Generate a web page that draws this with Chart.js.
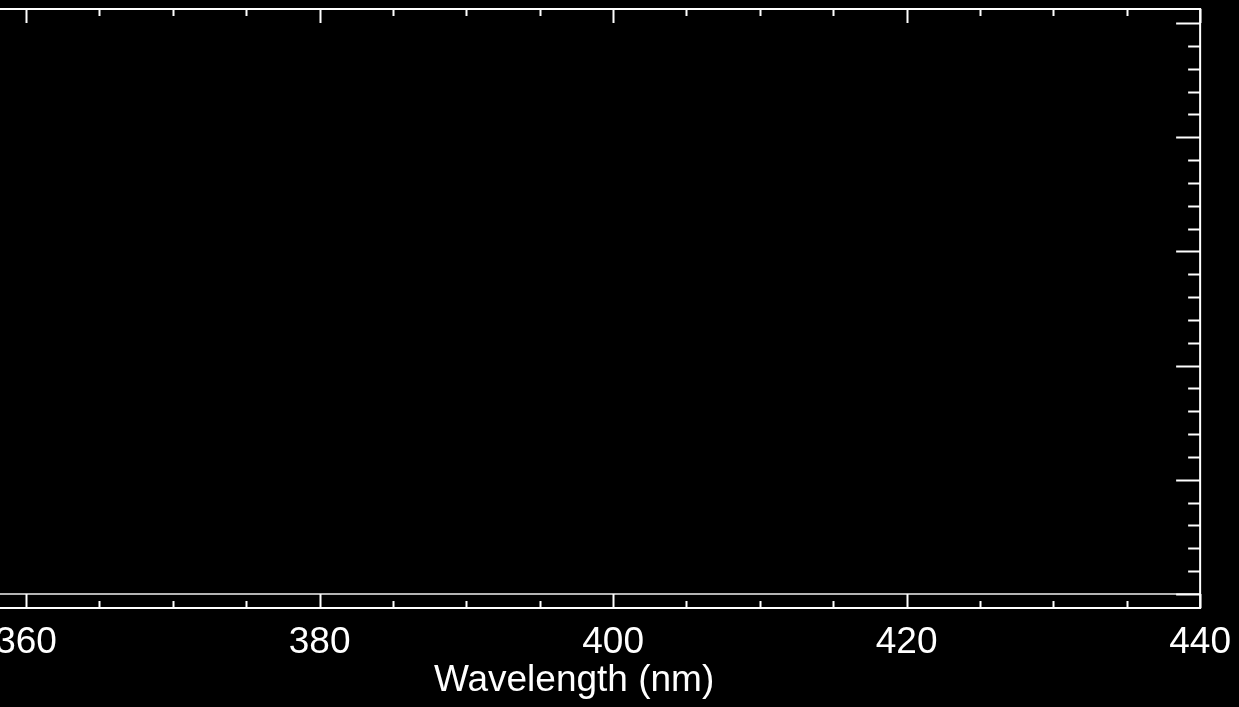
<!DOCTYPE html>
<html>
<head>
<meta charset="utf-8">
<script src="https://cdn.jsdelivr.net/npm/chart.js@4"></script>
<style>
  html, body { margin: 0; padding: 0; background: #000; overflow: hidden; }
  #wrap { position: absolute; left: -152px; top: 0; }
</style>
</head>
<body>
<div id="wrap"><canvas id="spec" width="1399" height="707"></canvas></div>
<script>
// wavelength range (nm) and tick setup
var xRange = [354.68, 440];
var xMajorTicks = [360, 380, 400, 420, 440];
var xMinorStep = 5;
// y axis: only ticks on the right edge are visible, labels are off the picture
var yRange = [-0.123, 5.123];
var yMajorStep = 1;
var yMinorStep = 0.2;
// the single flat trace sitting at zero
var waveNm = [350, 440];
var signal = [0, 0];

// IDL-style frame: inward ticks on bottom, top and right
var framePlugin = {
    id: 'idlFrame',
    afterDraw: function (chart) {
        var ctx = chart.ctx;
        var a = chart.chartArea;
        var xs = chart.scales.x;
        var ys = chart.scales.y;
        ctx.save();
        ctx.strokeStyle = '#ffffff';
        ctx.lineWidth = 2;
        ctx.beginPath();
        ctx.moveTo(a.left, a.top);
        ctx.lineTo(a.right, a.top);
        ctx.lineTo(a.right, a.bottom);
        ctx.lineTo(a.left, a.bottom);
        ctx.stroke();

        ctx.beginPath();
        xs.ticks.forEach(function (t) {
            var px = Math.round(xs.getPixelForValue(t.value)) + 0.5;
            var len = xMajorTicks.indexOf(t.value) >= 0 ? 14 : 7;
            ctx.moveTo(px, a.bottom);
            ctx.lineTo(px, a.bottom - len);
            ctx.moveTo(px, a.top);
            ctx.lineTo(px, a.top + len);
        });
        for (var v = 0; v <= 5 + 1e-6; v += yMinorStep) {
            var py = Math.round(ys.getPixelForValue(v)) + 0.5;
            var major = Math.abs(v / yMajorStep - Math.round(v / yMajorStep)) < 1e-6;
            ctx.moveTo(a.right, py);
            ctx.lineTo(a.right - (major ? 24 : 12), py);
        }
        ctx.stroke();
        ctx.restore();
    }
};

var chart = new Chart(document.getElementById('spec'), {
    type: 'line',
    data: {
        datasets: [{
            data: waveNm.map(function (w, i) { return { x: w, y: signal[i] }; }),
            borderColor: '#b4b4b4',
            borderWidth: 2,
            pointRadius: 0,
            fill: false
        }]
    },
    options: {
        responsive: false,
        animation: false,
        events: [],
        layout: { padding: { left: 100, right: 39, top: 9, bottom: 0 } },
        plugins: { legend: { display: false }, tooltip: { enabled: false } },
        scales: {
            x: {
                type: 'linear',
                min: xRange[0],
                max: xRange[1],
                grid: { display: false, drawTicks: false },
                border: { display: false },
                afterBuildTicks: function (scale) {
                    var t = [];
                    for (var v = 360; v <= xRange[1]; v += xMinorStep) t.push({ value: v });
                    scale.ticks = t;
                },
                ticks: {
                    autoSkip: false,
                    maxRotation: 0,
                    padding: 16,
                    color: '#ffffff',
                    font: { family: 'Liberation Sans', size: 37, lineHeight: 1 },
                    callback: function (v) { return xMajorTicks.indexOf(v) >= 0 ? String(v) : ''; }
                },
                title: {
                    display: true,
                    text: 'Wavelength (nm)',
                    color: '#ffffff',
                    font: { family: 'Liberation Sans', size: 37, lineHeight: 1 },
                    padding: { top: -15, bottom: 8 }
                }
            },
            y: {
                display: false,
                min: yRange[0],
                max: yRange[1]
            }
        }
    },
    plugins: [framePlugin]
});
</script>
</body>
</html>
